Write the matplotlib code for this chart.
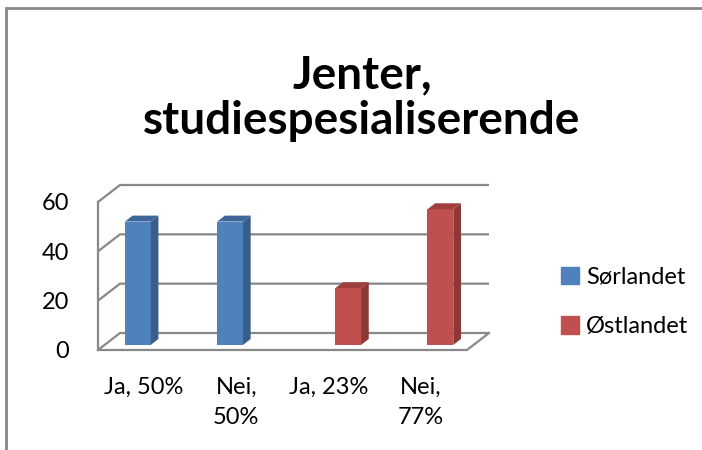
import numpy as np
import matplotlib.pyplot as plt
from matplotlib.patches import Polygon, Rectangle, Patch

# data
kategorier = ["Ja, 50%", "Nei,\n50%", "Ja, 23%", "Nei,\n77%"]
serier = ["Sørlandet", "Østlandet"]
sorlandet = [50, 50, 0, 0]
ostlandet = [0, 0, 23, 55]
yticks = [0, 20, 40, 60]
tittel = "Jenter,\nstudiespesialiserende"

plt.rcParams['font.family'] = ['Lato', 'DejaVu Sans']

W, H = 702, 450
fig = plt.figure(figsize=(W / 100, H / 100), dpi=100)

# front plane of the pseudo-3d box (pixels)
x0, x1, yb, yt = 98, 467, 350, 202
ax = fig.add_axes([x0 / W, 1 - yb / H, (x1 - x0) / W, (yb - yt) / H])
ax.set_xlim(-0.5, 3.5)
ax.set_ylim(0, 60)
ax.patch.set_visible(False)
for sp in ax.spines.values():
    sp.set_visible(False)

# depth vector (22px right, 17px up) in data units
kx = 4 / (x1 - x0)
ky = 60 / (yb - yt)
DX, DY = 22 * kx, 17 * ky

def d(x, y, f):
    return (x + f * DX, y + f * DY)

grid_c = '#888888'
lw = 1.6
# walls / gridlines
for v in yticks:
    p = [(-0.5, v), d(-0.5, v, 1), d(3.5, v, 1)]
    ax.plot([q[0] for q in p], [q[1] for q in p], color=grid_c, lw=lw,
            clip_on=False, zorder=1, solid_capstyle='butt')
ax.plot([-0.5, -0.5], [0, 60], color=grid_c, lw=lw, clip_on=False, zorder=1)
p = [(-0.5, 0), (3.5, 0), d(3.5, 0, 1)]
ax.plot([q[0] for q in p], [q[1] for q in p], color=grid_c, lw=lw,
        clip_on=False, zorder=1)

# bars
w = 0.28
f0, f1 = 0.3, 0.65
farger = [('#4F81BD', '#385D8A', '#3D6699'), ('#C0504D', '#8C3836', '#9E3F3C')]
x = np.arange(len(kategorier))
for vals, off, (cf, cs, ct) in zip([sorlandet, ostlandet], [-w / 2, w / 2], farger):
    vals = np.array(vals)
    ax.bar(x + off + f0 * DX, vals, w, bottom=f0 * DY, color=cf,
           clip_on=False, zorder=3)
    for i, v in enumerate(vals):
        if v <= 0:
            continue
        xl, xr = i + off - w / 2, i + off + w / 2
        side = [d(xr, 0, f0), d(xr, 0, f1), d(xr, v, f1), d(xr, v, f0)]
        top = [d(xl, v, f0), d(xr, v, f0), d(xr, v, f1), d(xl, v, f1)]
        ax.add_patch(Polygon(side, closed=True, fc=cs, ec='none',
                             clip_on=False, zorder=3))
        ax.add_patch(Polygon(top, closed=True, fc=ct, ec='none',
                             clip_on=False, zorder=3))

ax.set_yticks(yticks)
ax.set_xticks(x)
ax.set_xticklabels(kategorier, linespacing=1.55)
ax.tick_params(axis='both', length=0, labelsize=17)
ax.tick_params(axis='y', pad=21)
ax.tick_params(axis='x', pad=19)

# title
fig.text(362 / W, 1 - 98 / H, tittel, ha='center', va='center',
         fontsize=33, fontweight='bold', linespacing=1.1)

# legend
handles = [Patch(color=farger[0][0]), Patch(color=farger[1][0])]
fig.legend(handles, serier, loc='center left',
           bbox_to_anchor=(540 / W, 1 - 302 / H), frameon=False,
           fontsize=17, handlelength=0.75, handleheight=0.75,
           handletextpad=0.3, labelspacing=1.2)

# chart border
fig.add_artist(Rectangle((6 / W, -0.1), 1.1, 1.1 - 8 / H,
                         transform=fig.transFigure, fill=False,
                         ec='#888888', lw=2))

fig.savefig('out.png', dpi=100)
